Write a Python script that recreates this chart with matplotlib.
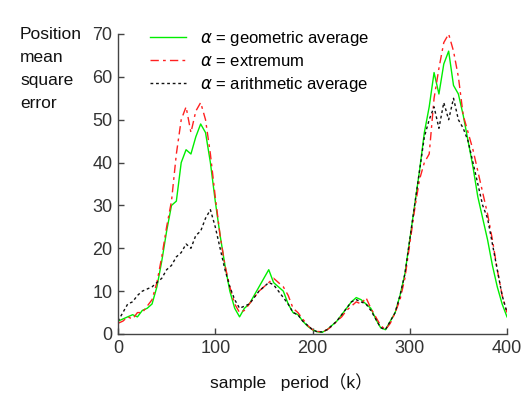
import matplotlib
matplotlib.use("Agg")
import matplotlib.pyplot as plt
import numpy as np

plt.rcParams['font.family'] = ['Liberation Sans', 'Noto Sans CJK SC', 'DejaVu Sans']
plt.rcParams['mathtext.fontset'] = 'dejavusans'

# sample period k (step 5)
k = list(range(0, 401, 5))

geometric = [3, 3.5, 4, 4.5, 4, 5.5, 6, 7, 11, 17, 24, 30, 31, 40, 43, 42, 46, 49, 47, 40,
             31, 23, 16, 10, 6, 4, 6, 7, 9, 11, 13, 15, 12, 11, 10, 7, 5, 4.5, 3, 1.8,
             1, 0.5, 0.4, 1, 2, 3, 4.5, 6, 7.5, 8.5, 8, 7, 6, 3.5, 1.5, 1, 3, 5, 9, 14,
             22, 30, 38, 47, 53, 61, 56, 63, 66, 58, 56, 51, 45, 39, 32, 27, 22, 16, 11, 7, 4]

extremum = [2.5, 3, 4, 3.5, 5, 5, 6.5, 8, 12, 18, 25, 31, 42, 50, 53, 47, 52, 54, 50, 42,
            32, 23, 16, 11, 7, 5, 5.5, 7, 8.5, 10, 11, 12, 13, 12, 11, 9, 6, 5, 3.5, 2,
            1, 0.6, 0.5, 1, 1.8, 3, 4, 5.5, 6.5, 7.5, 7, 8.5, 6, 4, 2, 1, 2.5, 5, 8, 13,
            21, 29, 36, 40, 42, 55, 62, 68, 70, 66, 60, 51, 47, 43, 38, 33, 28, 22, 15, 9, 5]

arithmetic = [3, 5, 7, 7.5, 9, 10, 10.5, 11, 12, 13, 15, 16, 18, 19, 21, 20, 23, 24, 27, 29,
              25, 20, 15, 11, 8, 6, 6.5, 7, 8.5, 10, 11, 12, 11.5, 10, 8.5, 7, 5, 4.5, 3, 2,
              1, 0.5, 0.5, 1, 2, 3, 4.5, 6, 7.5, 8, 7.5, 7, 5.5, 3.5, 1.5, 1, 3, 5, 9, 14,
              22, 30, 38, 46, 50, 53, 48, 54, 50, 55, 50, 48, 45, 40, 35, 30, 27, 21, 15, 9, 5]

labels = [r'$\alpha$ = geometric average', r'$\alpha$ = extremum', r'$\alpha$ = arithmetic average']

fig = plt.figure(figsize=(5.24, 3.94), dpi=100)
ax = fig.add_axes([118/524, 1-334/394, (507-118)/524, (334-34)/394])

ax.plot(k, geometric, color='#00ee00', lw=1.0, ls='-', label=labels[0])
ax.plot(k, extremum, color='#ff2020', lw=1.0, ls=(0, (6, 3, 2, 3)), label=labels[1])
ax.plot(k, arithmetic, color='#111111', lw=1.0, ls=(0, (2, 2)), label=labels[2])

ax.set_xlim(0, 400)
ax.set_ylim(0, 70)
ax.set_xticks([0, 100, 200, 300, 400])
ax.set_yticks([0, 10, 20, 30, 40, 50, 60, 70])
for s in ['top', 'right']:
    ax.spines[s].set_visible(False)
for s in ['left', 'bottom']:
    ax.spines[s].set_color('#444444')
    ax.spines[s].set_linewidth(1.0)
ax.tick_params(direction='in', length=4, width=1, colors='#444444', labelsize=13,
               labelcolor='#333333', pad=4)

leg = ax.legend(loc='upper left', bbox_to_anchor=(0.064, 1.04), frameon=False, fontsize=12,
                handlelength=2.2, handletextpad=0.8, labelspacing=0.36, borderaxespad=0)

fig.text(20/524, 1-27/394, 'Position\nmean\nsquare\nerror', ha='left', va='top',
         fontsize=12.5, color='#111111', linespacing=1.66)
fig.text(291/524, 1-382/394, 'sample   period（k）', ha='center', va='center',
         fontsize=12.5, color='#111111')

fig.savefig('out.png', dpi=100)
